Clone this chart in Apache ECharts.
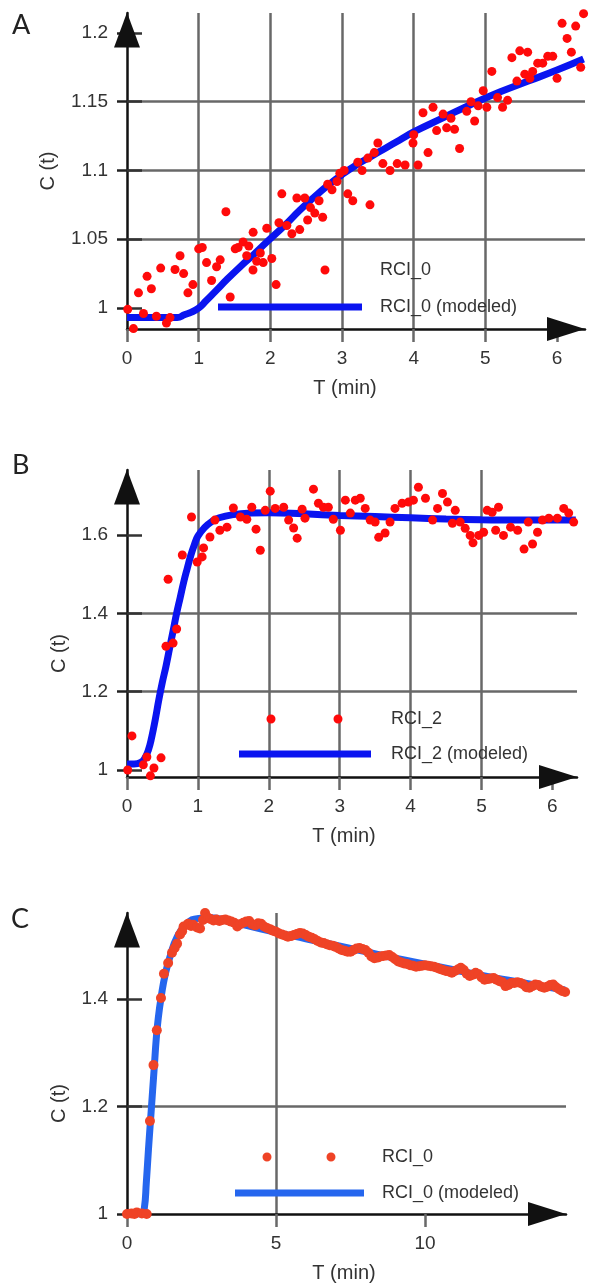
<!DOCTYPE html>
<html><head><meta charset="utf-8">
<script src="https://cdn.jsdelivr.net/npm/echarts@6/dist/echarts.min.js"></script>
<style>html,body{margin:0;padding:0;background:#fff}#c{width:590px;height:1287px}</style>
</head><body><div id="c"></div>
<script>
// ---------- tick labels ----------
const xTicksA = [0, 1, 2, 3, 4, 5, 6];
const yTicksA = [1, 1.05, 1.1, 1.15, 1.2];
const xTicksB = [0, 1, 2, 3, 4, 5, 6];
const yTicksB = [1, 1.2, 1.4, 1.6];
const xTicksC = [0, 5, 10];
const yTicksC = [1, 1.2, 1.4];

// ---------- series names ----------
const namesA = ['RCI_0', 'RCI_0 (modeled)'];
const namesB = ['RCI_2', 'RCI_2 (modeled)'];
const namesC = ['RCI_0', 'RCI_0 (modeled)'];

// ---------- panel A ----------
const scatterA = [
[0.01,0.999],[0.09,0.985],[0.16,1.011],[0.23,0.996],[0.28,1.023],[0.34,1.014],[0.41,0.994],[0.47,1.029],
[0.55,0.989],[0.60,0.993],[0.67,1.028],[0.74,1.038],[0.79,1.025],[0.85,1.011],[0.92,1.017],[1.00,1.043],
[1.05,1.044],[1.11,1.033],[1.18,1.020],[1.25,1.030],[1.30,1.035],[1.38,1.070],[1.44,1.008],[1.51,1.043],
[1.55,1.044],[1.62,1.048],[1.67,1.038],[1.70,1.045],[1.76,1.055],[1.81,1.034],[1.86,1.040],[1.90,1.033],
[1.95,1.058],[2.02,1.036],[2.08,1.017],[2.12,1.062],[2.16,1.083],[2.23,1.060],[2.30,1.054],[2.37,1.080],
[2.41,1.057],[2.48,1.080],[2.52,1.064],[2.56,1.073],[2.62,1.069],[2.68,1.078],[2.73,1.066],[2.80,1.090],
[2.86,1.086],[2.93,1.092],[2.97,1.098],[3.03,1.100],[3.08,1.083],[3.15,1.078],[3.22,1.106],[3.28,1.100],
[3.36,1.109],[3.39,1.075],[3.45,1.113],[3.50,1.120],[3.57,1.105],[3.67,1.100],[3.77,1.105],[3.88,1.104],
[3.99,1.120],[4.00,1.126],[4.06,1.104],[4.13,1.142],[4.20,1.113],[4.27,1.146],[4.32,1.129],[4.41,1.141],
[4.46,1.131],[4.52,1.138],[4.57,1.130],[4.64,1.116],[4.74,1.143],[4.80,1.150],[4.85,1.136],[4.90,1.147],
[4.97,1.158],[5.02,1.146],[5.09,1.172],[5.17,1.153],[5.24,1.146],[5.31,1.151],[5.37,1.182],[5.44,1.165],
[5.48,1.187],[5.55,1.170],[5.59,1.186],[5.62,1.167],[5.66,1.172],[5.73,1.178],[5.80,1.178],[5.87,1.183],
[5.94,1.183],[6.00,1.167],[6.07,1.207],[6.14,1.196],[6.20,1.186],[6.26,1.205],[6.33,1.175],[6.37,1.214]
];
const modelA = [
[0,0.993],[0.5,0.993],[0.7,0.993],[0.8,0.995],[0.9,0.997],[1.0,1.0],[1.1,1.005],[1.25,1.013],[1.4,1.021],
[1.58,1.030],[1.75,1.038],[1.95,1.048],[2.2,1.060],[2.41,1.071],[2.6,1.080],[2.8,1.089],[3.0,1.097],
[3.2,1.104],[3.4,1.110],[3.6,1.116],[3.8,1.122],[4.0,1.128],[4.4,1.138],[4.8,1.148],[5.2,1.157],
[5.6,1.165],[6.0,1.173],[6.37,1.181]
];

// ---------- panel B ----------
const scatterB = [
[0.01,1.0],[0.07,1.087],[0.15,0.98],[0.23,1.013],[0.28,1.033],[0.33,0.985],[0.38,1.005],[0.48,1.031],
[0.55,1.316],[0.58,1.487],[0.65,1.324],[0.70,1.36],[0.78,1.549],[0.91,1.646],[0.99,1.531],[1.06,1.544],
[1.08,1.567],[1.17,1.595],[1.24,1.638],[1.31,1.612],[1.41,1.620],[1.50,1.669],[1.60,1.646],[1.69,1.640],
[1.76,1.671],[1.82,1.615],[1.88,1.561],[1.95,1.663],[2.02,1.712],[2.09,1.668],[2.21,1.671],[2.28,1.638],
[2.35,1.618],[2.40,1.592],[2.47,1.666],[2.51,1.643],[2.58,1.771],[2.63,1.717],[2.70,1.681],[2.77,1.671],
[2.84,1.671],[2.91,1.640],[3.01,1.612],[3.08,1.689],[3.15,1.656],[3.22,1.689],[3.29,1.694],[3.36,1.668],
[3.43,1.638],[3.50,1.633],[3.55,1.594],[3.64,1.605],[3.71,1.633],[3.78,1.668],[3.88,1.681],[3.97,1.684],
[4.04,1.689],[4.11,1.722],[4.21,1.694],[4.31,1.638],[4.38,1.668],[4.45,1.706],[4.52,1.684],[4.59,1.630],
[4.63,1.663],[4.70,1.633],[4.77,1.617],[4.84,1.599],[4.88,1.580],[4.96,1.599],[5.03,1.607],[5.08,1.663],
[5.15,1.658],[5.20,1.612],[5.24,1.671],[5.31,1.599],[5.41,1.620],[5.51,1.612],[5.60,1.564],[5.66,1.633],
[5.72,1.577],[5.79,1.607],[5.86,1.638],[5.95,1.643],[6.07,1.643],[6.16,1.668],[6.23,1.656],[6.30,1.633],
[6.36,1.646]
];
const modelB = [
[0,1.015],[0.1,1.015],[0.2,1.02],[0.25,1.03],[0.3,1.05],[0.35,1.085],[0.4,1.13],[0.45,1.18],[0.5,1.225],
[0.55,1.265],[0.6,1.31],[0.65,1.355],[0.7,1.40],[0.75,1.44],[0.8,1.48],[0.85,1.515],[0.9,1.548],
[0.95,1.575],[1.0,1.597],[1.1,1.62],[1.2,1.635],[1.3,1.644],[1.5,1.652],[1.75,1.656],[2.0,1.657],
[2.5,1.654],[3.0,1.65],[3.5,1.647],[4.0,1.644],[4.5,1.641],[5.0,1.639],[5.5,1.638],[6.0,1.638],[6.33,1.638]
];

// ---------- panel C ----------
const scatterC = [
[0.0,1.0],[0.08,0.998],[0.15,1.001],[0.25,1.0],[0.33,1.003],[0.42,0.999],[0.5,1.001],[0.58,0.998],[0.66,1.0],
[0.77,1.173],[0.89,1.277],[1.0,1.342],[1.14,1.402],[1.24,1.447],[1.38,1.467],[1.51,1.486],[1.6,1.495],
[1.68,1.503],[1.78,1.520],[1.85,1.526],[1.9,1.535],[2.05,1.540],[2.15,1.536],[2.22,1.538],[2.35,1.533],
[2.45,1.531],[2.55,1.547],[2.62,1.56],[2.72,1.551],
[2.8,1.549],[2.9,1.546],[3.0,1.548],[3.1,1.545],[3.2,1.547],[3.3,1.548],[3.4,1.546],[3.5,1.544],[3.6,1.542],
[3.7,1.535],[3.8,1.539],[3.9,1.542],[4.0,1.544],[4.1,1.545],[4.2,1.539],[4.3,1.537],[4.4,1.541],[4.5,1.540],
[4.6,1.535],[4.7,1.532],[4.8,1.530],[4.9,1.527],[5.0,1.525],[5.1,1.522],[5.2,1.520],[5.3,1.518],[5.4,1.516],
[5.5,1.517],[5.6,1.519],[5.7,1.521],[5.8,1.523],[5.9,1.522],[6.0,1.519],[6.1,1.516],[6.2,1.514],[6.3,1.511],
[6.4,1.508],[6.5,1.505],[6.6,1.504],[6.7,1.502],[6.8,1.500],[6.9,1.499],[7.0,1.497],[7.1,1.494],[7.2,1.491],
[7.3,1.490],[7.4,1.488],[7.5,1.488],[7.6,1.491],[7.7,1.494],[7.8,1.495],[7.9,1.493],[8.0,1.491],[8.1,1.486],
[8.2,1.479],[8.3,1.476],[8.4,1.477],[8.5,1.479],[8.6,1.480],[8.7,1.481],[8.8,1.482],[8.9,1.478],[9.0,1.474],
[9.1,1.470],[9.2,1.468],[9.3,1.466],[9.4,1.465],[9.5,1.463],[9.6,1.462],[9.7,1.460],[9.8,1.461],[9.9,1.462],
[10.0,1.463],[10.1,1.462],[10.2,1.461],[10.3,1.460],[10.4,1.458],[10.5,1.456],[10.6,1.454],[10.7,1.452],
[10.8,1.451],[10.9,1.449],[11.0,1.452],[11.1,1.455],[11.2,1.458],[11.3,1.454],[11.4,1.447],[11.5,1.443],
[11.6,1.445],[11.7,1.449],[11.8,1.446],[11.9,1.440],[12.0,1.436],[12.1,1.437],[12.2,1.438],[12.3,1.439],
[12.4,1.436],[12.5,1.433],[12.6,1.431],[12.7,1.424],[12.8,1.426],[12.9,1.430],[13.0,1.430],[13.1,1.431],
[13.2,1.430],[13.3,1.427],[13.4,1.422],[13.5,1.421],[13.6,1.424],[13.7,1.427],[13.8,1.426],[13.9,1.423],
[14.0,1.421],[14.1,1.423],[14.2,1.426],[14.3,1.427],[14.4,1.422],[14.5,1.418],[14.6,1.415],[14.7,1.413]
];
const modelC = [
[0,1.0],[0.5,1.0],[0.58,1.01],[0.65,1.06],[0.72,1.12],[0.79,1.175],[0.86,1.23],[0.92,1.277],[0.98,1.325],
[1.05,1.365],[1.15,1.405],[1.28,1.445],[1.45,1.48],[1.68,1.515],[2.0,1.540],[2.4,1.55],[2.8,1.551],
[3.5,1.543],[4,1.537],[5,1.524],[6,1.512],[7,1.5],[8,1.488],[9,1.476],[10,1.465],[11,1.454],[12,1.443],
[13,1.433],[14,1.423],[14.7,1.417]
];

// ---------- styling ----------
const FONT = 'Liberation Sans, Arial, sans-serif';
const GRID_COLOR = '#686868';
const AXIS_COLOR = '#111';
const TXT = '#333';
const RED = '#ff0a0a', BLUE = '#0a14f0';
const RED_C = '#ef4326', BLUE_C = '#2566ee';

function lineIcon(W, len, H) {
  const t = 2.5, b = H - 2.5;
  return 'path://M0,0 L0,0 M' + W + ',' + H + ' L' + W + ',' + H +
    ' M0,' + t + ' L' + len + ',' + t + ' L' + len + ',' + b + ' L0,' + b + ' Z';
}
function dotsIcon(W, c1, c2, H) {
  const r = 4.5, cy = H / 2;
  const circ = c => ' M' + (c - r) + ',' + cy + ' a' + r + ',' + r + ' 0 1,0 ' + (2 * r) + ',0 a' + r + ',' + r + ' 0 1,0 ' + (-2 * r) + ',0 Z';
  return 'path://M0,0 L0,0 M' + W + ',' + H + ' L' + W + ',' + H + circ(c1) + circ(c2);
}

function xAxisCfg(g, max, interval, ticks, namePadRight) {
  return {
    gridIndex: g, type: 'value', min: 0, max: max, interval: interval,
    axisLine: { show: true, onZero: false, lineStyle: { color: AXIS_COLOR, width: 2.5 },
      symbol: ['none', 'triangle'], symbolSize: [24, 38], symbolOffset: [0, -19] },
    axisTick: { show: true, length: 13, customValues: ticks, lineStyle: { color: GRID_COLOR, width: 2.5 } },
    axisLabel: { customValues: ticks, margin: 20, fontSize: 19, color: TXT, fontFamily: FONT },
    splitLine: { show: true, showMinLine: false, showMaxLine: false, lineStyle: { color: GRID_COLOR, width: 2.5 } },
    name: 'T (min)', nameLocation: 'middle', nameGap: 49,
    nameTextStyle: { fontSize: 20, color: TXT, fontFamily: FONT, padding: [0, namePadRight, 0, 0] }
  };
}
function yAxisCfg(g, min, max, step, ticks, nameGap, namePadRight) {
  return {
    gridIndex: g, type: 'value', min: min, max: max, minInterval: step, maxInterval: step, splitNumber: 5,
    axisLine: { show: true, onZero: false, lineStyle: { color: AXIS_COLOR, width: 2.5 },
      symbol: ['none', 'triangle'], symbolSize: [26, 35], symbolOffset: [0, -17] },
    axisTick: { show: true, length: 10, customValues: ticks, lineStyle: { color: '#222', width: 2.5 } },
    axisLabel: { customValues: ticks, margin: 19, fontSize: 19, color: TXT, fontFamily: FONT },
    splitLine: { show: true, showMinLine: false, showMaxLine: false, lineStyle: { color: GRID_COLOR, width: 2.5 } },
    name: 'C (t)', nameLocation: 'middle', nameGap: nameGap,
    nameTextStyle: { fontSize: 20, color: TXT, fontFamily: FONT, padding: [0, namePadRight, 0, 0] }
  };
}
function yInnerTicks(g, min, max, step, ticks) {
  return {
    gridIndex: g, type: 'value', min: min, max: max, minInterval: step, maxInterval: step, position: 'left',
    axisLine: { show: false }, axisLabel: { show: false }, splitLine: { show: false },
    axisTick: { show: true, inside: true, length: 15, customValues: ticks, lineStyle: { color: '#333', width: 2.5 } }
  };
}
function legendCfg(names, left, top, gap, W, len, c1, c2, dotColor, lineColor) {
  return {
    orient: 'vertical', left: left, top: top, itemWidth: W, itemHeight: 12, itemGap: gap,
    selectedMode: false,
    itemStyle: { borderWidth: 0 },
    textStyle: { fontSize: 18, color: TXT, fontFamily: FONT },
    data: [
      { name: names[0], icon: dotsIcon(W, c1, c2, 12), itemStyle: { color: dotColor, borderWidth: 0 } },
      { name: names[1], icon: lineIcon(W, len, 12), itemStyle: { color: lineColor, borderWidth: 0 } }
    ]
  };
}
const titleStyle = { fontSize: 27, fontWeight: 'normal', color: '#222', fontFamily: 'Lato, ' + FONT };

const option = {
  animation: false,
  backgroundColor: '#fff',
  title: [
    { text: 'A', left: 7, top: 7, textStyle: titleStyle },
    { text: 'B', left: 7, top: 447, textStyle: titleStyle },
    { text: 'C', left: 6, top: 901, textStyle: titleStyle }
  ],
  grid: [
    { left: 127, top: 13, width: 458, height: 316, outerBoundsMode: 'none', containLabel: false },
    { left: 127, top: 470, width: 450, height: 307, outerBoundsMode: 'none', containLabel: false },
    { left: 127, top: 913, width: 439, height: 301, outerBoundsMode: 'none', containLabel: false }
  ],
  xAxis: [
    xAxisCfg(0, 6.39, 1, xTicksA, 22),
    xAxisCfg(1, 6.347, 1, xTicksB, 16),
    xAxisCfg(2, 14.73, 5, xTicksC, 5)
  ],
  yAxis: [
    yAxisCfg(0, 0.9847, 1.2145, 0.05, yTicksA, 69, 0),
    yAxisCfg(1, 0.982, 1.766, 0.2, yTicksB, 58, 60),
    yAxisCfg(2, 1.0, 1.56, 0.2, yTicksC, 58, 80),
    yInnerTicks(0, 0.9847, 1.2145, 0.05, yTicksA),
    yInnerTicks(1, 0.982, 1.766, 0.2, yTicksB),
    yInnerTicks(2, 1.0, 1.56, 0.2, yTicksC)
  ],
  legend: [
    legendCfg(namesA, 213, 256, 19, 157, 144, 35, 107, RED, BLUE),
    legendCfg(namesB, 234, 705, 17, 147, 132, 32, 99, RED, BLUE),
    legendCfg(namesC, 230, 1143, 18, 142, 129, 32, 96, RED_C, BLUE_C)
  ],
  series: [
    { name: namesA[1], type: 'line', xAxisIndex: 0, yAxisIndex: 0, data: modelA, smooth: true, showSymbol: false,
      lineStyle: { color: BLUE, width: 7 }, itemStyle: { color: BLUE }, z: 2 },
    { name: namesA[0], type: 'scatter', xAxisIndex: 0, yAxisIndex: 0, data: scatterA, symbolSize: 9,
      itemStyle: { color: RED, opacity: 1 }, z: 3 },
    { name: namesB[1], type: 'line', xAxisIndex: 1, yAxisIndex: 1, data: modelB, smooth: true, showSymbol: false,
      lineStyle: { color: BLUE, width: 7 }, itemStyle: { color: BLUE }, z: 2 },
    { name: namesB[0], type: 'scatter', xAxisIndex: 1, yAxisIndex: 1, data: scatterB, symbolSize: 9,
      itemStyle: { color: RED, opacity: 1 }, z: 3 },
    { name: namesC[1], type: 'line', xAxisIndex: 2, yAxisIndex: 2, data: modelC, smooth: true, showSymbol: false,
      lineStyle: { color: BLUE_C, width: 7 }, itemStyle: { color: BLUE_C }, z: 2 },
    { name: namesC[0], type: 'scatter', xAxisIndex: 2, yAxisIndex: 2, data: scatterC, symbolSize: 10,
      itemStyle: { color: RED_C, opacity: 1 }, z: 3 }
  ]
};
const chart = echarts.init(document.getElementById('c'), null, { renderer: 'canvas', width: 590, height: 1287 });
chart.setOption(option);
</script></body></html>
